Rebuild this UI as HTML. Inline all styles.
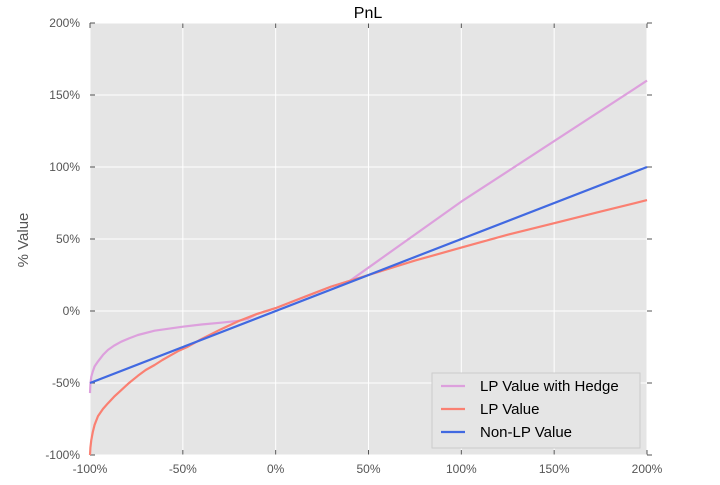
<!DOCTYPE html>
<html><head><meta charset="utf-8"><style>
body{margin:0;background:#fff;font-family:"Liberation Sans",sans-serif}
</style></head><body>
<svg id="c" width="720" height="480" xmlns="http://www.w3.org/2000/svg"></svg>
<script>
const xTicks=[-100,-50,0,50,100,150,200];
const yTicks=[-100,-50,0,50,100,150,200];
const lpX=[-100,-99.8,-99.3,-98.5,-97.5,-95.7,-93,-90.3,-87,-83.2,-79,-74.2,-70,-65.2,-61,-56.3,-52,-47.3,-40,-30,-20,-10,0,10,20,30,40,50,75,100,125,150,175,200];
const lpY=[-100,-95,-89.6,-84,-79,-73,-68,-64,-59.5,-55,-50,-45,-41,-37.5,-34,-30.6,-27.5,-24.8,-19.5,-13,-7,-2,2,7,12,17,21,25,35,44,53,61,69,77];
const hedgeX=[-100,-99.8,-99.3,-98.5,-97.5,-95.7,-93,-90.3,-87,-83.2,-79,-74.2,-65.2,-50,-40,-29.4,-20,-15,-10,0,10,20,30,40,100,200];
const hedgeY=[-57,-51,-45.6,-42,-38.5,-35,-30.5,-27,-24,-21.3,-19,-16.7,-13.7,-10.9,-9.4,-8.1,-6.8,-5.5,-2,2,7,12,17,21,76,160];
const holdX=[-100,200];
const holdY=[-50,100];
const L=90,R=647,T=23,B=455;
const sx=v=>L+(v+100)/300*(R-L);
const sy=v=>B-(v+100)/300*(B-T);
const svg=document.getElementById('c');
const NS='http://www.w3.org/2000/svg';
function mk(t,a,p){const e=document.createElementNS(NS,t);for(const k in a)e.setAttribute(k,a[k]);(p||svg).appendChild(e);return e;}
let e=mk('rect',{x:L,y:T,width:R-L,height:B-T,fill:'#e5e5e5'});


xTicks.forEach(v=>{
 let g=mk('line',{x1:sx(v),x2:sx(v),y1:T,y2:B,stroke:'#fff','stroke-width':1});
 
 
 mk('line',{x1:sx(v),x2:sx(v),y1:B,y2:B-5,stroke:'#555'});
 mk('line',{x1:sx(v),x2:sx(v),y1:T,y2:T+5,stroke:'#555'});
 let t=mk('text',{x:sx(v),y:B+18,'text-anchor':'middle','font-size':12,fill:'#555'});
 t.textContent=v+'%';
 
 
});
yTicks.forEach(v=>{
 let g=mk('line',{x1:L,x2:R,y1:sy(v),y2:sy(v),stroke:'#fff','stroke-width':1});
 
 
 mk('line',{x1:L,x2:L+5,y1:sy(v),y2:sy(v),stroke:'#555'});
 mk('line',{x1:R,x2:R+5,y1:sy(v),y2:sy(v),stroke:'#555'});
 let t=mk('text',{x:L-10,y:sy(v)+4,'text-anchor':'end','font-size':12,fill:'#555'});
 t.textContent=v+'%';
 
 
});
function line(xs,ys,col,name){
 const d=xs.map((x,i)=>(i?'L':'M')+sx(x).toFixed(1)+','+sy(ys[i]).toFixed(1)).join('');
 const p=mk('path',{d:d,fill:'none',stroke:col,'stroke-width':2.2,'stroke-linejoin':'round'});
 
 
}
line(hedgeX,hedgeY,'#dda0dd','lp-value-with-hedge-line');
line(lpX,lpY,'#fa8072','lp-value-line');
line(holdX,holdY,'#4169e1','non-lp-value-line');
let tt=mk('text',{x:368,y:18,'text-anchor':'middle','font-size':16,fill:'#000'});
tt.textContent='PnL';


let yl=mk('text',{x:0,y:0,'text-anchor':'middle','font-size':15,fill:'#555',transform:'translate(28,240) rotate(-90)'});
yl.textContent='% Value';


const lg=mk('g',{});


mk('rect',{x:432,y:373,width:208,height:75,fill:'#e5e5e5',stroke:'#ccc'},lg);
[['LP Value with Hedge','#dda0dd'],['LP Value','#fa8072'],['Non-LP Value','#4169e1']].forEach((it,i)=>{
 const y=386+i*23;
 mk('line',{x1:441,x2:465,y1:y,y2:y,stroke:it[1],'stroke-width':2.2},lg);
 const t=mk('text',{x:480,y:y+5,'font-size':15,fill:'#000'},lg);
 t.textContent=it[0];
 
 
});
</script>
</body></html>
